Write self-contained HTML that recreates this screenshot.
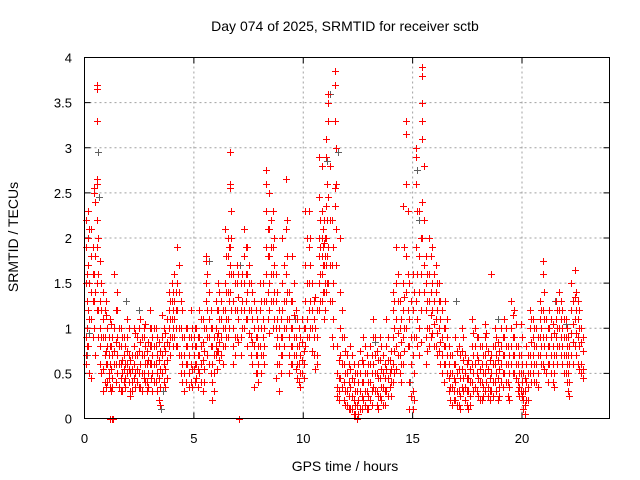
<!DOCTYPE html>
<html><head><meta charset="utf-8"><style>
body{margin:0;background:#fff;}
svg{display:block;font-family:"Liberation Sans",sans-serif;}
</style></head><body>
<svg id="chart" width="640" height="480" viewBox="0 0 640 480">
<rect width="640" height="480" fill="#fff"/>
<text x="345" y="31" font-size="14" text-anchor="middle">Day 074 of 2025, SRMTID for receiver sctb</text>
<text transform="translate(18,237) rotate(-90)" font-size="14" text-anchor="middle">SRMTID / TECUs</text>
<text x="345" y="471" font-size="14" text-anchor="middle">GPS time / hours</text>
<g id="grid"></g><g id="ticks"></g><g id="pts"></g>
<rect x="84.5" y="57.5" width="525" height="361" fill="none" stroke="#000" stroke-width="1"/>
</svg>
<script>
const xTicks=[0,5,10,15,20];
const yTicks=[0,0.5,1,1.5,2,2.5,3,3.5,4];
const yTickLabels=["0","0.5","1","1.5","2","2.5","3","3.5","4"];
const redHours=[0.05,0.15,0.3,0.45,0.55,0.7,0.85,1.0,1.1,1.2,1.35,1.5,1.65,1.8,1.95,2.1,2.25,2.4,2.55,2.7,2.85,3.0,3.1,3.25,3.4,3.55,3.7,3.85,4.0,4.1,4.25,4.4,4.55,4.7,4.85,5.0,5.1,5.25,5.4,5.55,5.7,5.85,6.0,6.1,6.25,6.4,6.55,6.65,6.8,6.95,7.2,7.3,7.45,7.6,7.75,7.9,8.0,8.15,8.3,8.45,8.6,8.75,8.9,9.05,9.2,9.35,9.5,9.65,9.8,9.95,10.1,10.25,10.4,10.55,10.7,10.85,10.95,11.05,11.15,11.3,11.45,11.55,11.7,11.85,12.0,12.15,12.3,12.45,12.6,12.75,12.9,13.05,13.2,13.35,13.5,13.65,13.8,13.95,14.1,14.25,14.4,14.55,14.7,14.85,15.0,15.15,15.3,15.45,15.6,15.75,15.9,16.05,16.2,16.35,16.5,16.65,16.8,16.95,17.1,17.25,17.4,17.55,17.7,17.85,18.0,18.15,18.3,18.45,18.6,18.75,18.9,19.05,19.2,19.35,19.5,19.65,19.8,19.95,20.05,20.2,20.35,20.5,20.65,20.8,20.95,21.1,21.25,21.4,21.55,21.7,21.85,22.0,22.1,22.25,22.4,22.55,22.7,1.15,1.25,1.3,7.05];
const redValues=[[2.2,1.9,1.5,0.9,0.6,0.7],[2.3,2.0,1.7,1.2,0.8],[1.4,1.1,0.45,1.8,2.1],[2.55,2.5,1.3,1.6,1.0],[3.7,3.65,3.3,2.65,2.6,2.2,1.9,1.5,1.2],[1.75,1.3,1.0,0.8,0.6],[1.4,1.1,0.9,0.55,0.3],[1.3,1.15,0.75,0.6,0.35],[0.9,0.7,0.5,0.45],[1.05,0.8,0.55,0.3],[1.6,1.0,0.75,0.6],[1.4,1.2,0.9,0.7,0.5],[1.0,0.8,0.6,0.45,0.3],[0.9,0.7,0.55,0.4],[1.1,0.9,0.75,0.6,0.5],[0.65,0.5,0.3,0.25],[1.0,0.8,0.6,0.45],[0.9,0.7,0.55,0.4],[1.1,0.85,0.6,0.35],[1.0,0.9,0.7,0.5,0.45],[0.75,0.6,0.4,0.3],[1.2,1.0,0.8,0.6],[0.9,0.7,0.5,0.3],[1.0,0.8,0.6,0.4],[0.85,0.65,0.45,0.2],[1.15,0.9,0.7,0.5],[0.95,0.75,0.55,0.35],[1.4,1.2,1.0,0.8],[1.5,1.3,1.1,0.9],[1.6,1.3,1.1,0.9],[1.9,1.5,1.2,0.8],[1.3,1.0,0.7,0.5],[0.9,0.7,0.5,0.3],[1.0,0.8,0.6],[1.2,0.9,0.6,0.4],[0.9,0.7,0.55],[1.0,0.8,0.6,0.45],[1.2,0.9,0.7,0.5],[1.1,0.85,0.65,0.3],[1.8,1.75,1.5,1.3,1.0],[1.4,1.1,0.9,0.6],[1.0,0.8,0.6,0.4,0.2],[1.3,1.0,0.8,0.7],[1.5,1.2,0.95,0.75],[1.3,1.1,0.9,0.7],[2.1,1.5,1.2,1.0,0.8],[2.0,1.8,1.4,1.1,0.9],[2.95,2.6,2.55,1.9,1.7,1.4],[1.6,1.3,1.0,0.8,0.6],[1.7,1.5,1.2,0.9],[1.6,1.3,1.0],[2.1,1.8,1.5,1.2,1.0],[1.9,1.6,1.4,1.1,0.8],[1.5,1.2,0.9,0.7],[1.3,1.0,0.8,0.35],[1.1,0.9,0.7,0.5],[1.5,1.2,0.8],[1.5,1.1,0.9,0.7],[2.75,2.6,2.3,1.9,1.6,1.3],[2.5,2.1,1.8,1.5,1.2,0.95],[2.3,1.9,1.6,1.3,1.0],[1.6,1.3,1.0,0.8,0.45],[1.2,1.0,0.8,0.6,0.3],[2.0,1.5,1.2,0.9,0.7],[2.65,2.1,1.6,1.3,1.0],[1.4,1.1,0.9,0.7,0.5],[1.8,1.3,1.0,0.8,0.6],[1.2,0.9,0.7,0.55],[1.0,0.8,0.6,0.4],[1.1,0.85,0.65,0.5],[2.3,1.7,1.3,1.0,0.8],[2.3,1.9,1.5,1.2,0.9],[1.5,1.2,1.0,0.75],[1.35,1.0,0.55],[2.9,2.45,2.0,1.8,1.5,1.2],[2.8,2.3,2.0,1.8,1.6,1.3],[2.2,1.95,1.7,1.4,1.1],[3.1,2.9,2.35,2.0,1.7,1.4],[3.6,3.5,3.3,2.45,1.9,1.5],[2.2,1.7,1.3,0.9],[3.85,3.7,3.3,2.55,2.35],[0.8,0.5,0.35,0.25],[2.0,1.4,1.0,0.7,0.45],[0.9,0.6,0.4,0.2],[0.7,0.5,0.3,0.15],[0.8,0.55,0.35,0.1],[0.6,0.4,0.2,0.05],[0.5,0.3,0.15,0.0],[0.75,0.5,0.3,0.1],[0.9,0.6,0.4,0.2],[0.7,0.5,0.3,0.1],[0.8,0.6,0.4,0.2],[1.1,0.9,0.6,0.35],[0.75,0.5,0.3,0.15],[0.9,0.65,0.45,0.25],[0.7,0.5,0.35,0.15],[1.1,0.8,0.55,0.3],[0.65,0.5,0.35],[1.4,1.2,0.9,0.6,0.4],[1.9,1.5,1.1,0.8,0.55],[1.3,1.0,0.7,0.5],[2.35,1.5,1.2,0.9,0.6],[3.3,3.15,2.6,1.8,1.4,1.0],[1.5,1.1,0.8,0.4,0.1],[1.6,1.2,0.7,0.3,0.1],[3.0,2.9,2.6,1.9,1.3,0.9],[2.3,1.8,1.4,1.0,0.7],[3.9,3.8,3.5,3.3,3.1,2.4,2.0],[1.8,1.5,1.2,0.9,0.6],[2.0,1.6,1.3,1.0,0.8],[1.9,1.5,1.2,0.95],[1.7,1.4,1.1,0.8],[1.5,1.3,1.0,0.75],[1.2,0.9,0.7,0.5],[1.3,1.0,0.8,0.6],[0.8,0.6,0.45,0.3],[0.7,0.5,0.35,0.15],[0.9,0.6,0.4,0.2],[0.8,0.55,0.3,0.15],[1.0,0.75,0.55,0.35],[0.7,0.5,0.35,0.2],[0.65,0.45,0.3,0.1],[1.1,0.8,0.6,0.4],[1.0,0.8,0.6,0.35],[0.9,0.65,0.45,0.25],[0.8,0.6,0.4,0.2],[1.05,0.9,0.7,0.5,0.3],[0.75,0.55,0.35,0.25],[1.6,0.7,0.5,0.3],[1.0,0.8,0.6,0.4],[0.85,0.65,0.45,0.2],[1.0,0.8,0.6,0.4],[1.1,0.9,0.7,0.5],[0.8,0.6,0.4,0.25],[1.3,1.0,0.8,0.6],[1.2,0.9,0.7,0.5],[0.8,0.6,0.4,0.3],[1.05,0.7,0.5,0.3],[0.5,0.3,0.2,0.1],[0.8,0.6,0.4,0.2],[1.2,1.0,0.7,0.5],[1.1,0.9,0.7,0.5],[1.0,0.8,0.6,0.4],[1.3,1.1,0.9,0.7],[1.75,1.6,1.2,0.9,0.6],[1.1,0.9,0.7,0.5],[1.2,1.0,0.8,0.6],[1.05,0.8,0.6,0.4],[1.3,1.1,0.9,0.7],[1.4,1.2,1.0,0.8],[1.2,1.0,0.8,0.6],[1.1,0.9,0.7,0.5],[0.9,0.7,0.5,0.3],[1.5,1.2,0.95,0.7],[1.65,1.35,1.1,0.8],[1.3,1.1,0.9,0.6],[1.0,0.85,0.6,0.5],[0],[0],[0],[0]];
const redBins2=[
[0.12,[1.6,1.3,1.0,0.8]],[0.22,[2.1,1.5,1.1,0.5]],[0.37,[1.9,1.6,1.3,0.9]],[0.5,[2.4,1.8,1.4,0.7]],[0.62,[2.0,1.6,1.2,0.9]],[0.77,[1.5,1.2,0.9,0.5]],[0.92,[1.2,0.9,0.7,0.4]],[1.05,[1.0,0.8,0.6,0.4]],[1.17,[1.1,0.8,0.6,0.35]],
[1.27,[0.9,0.7,0.45,0.35]],[1.42,[1.2,0.85,0.6,0.4]],[1.57,[1.0,0.8,0.6,0.35]],[1.72,[0.9,0.65,0.5,0.3]],[1.87,[0.8,0.6,0.45,0.35]],[2.02,[1.0,0.7,0.55,0.4]],[2.17,[0.7,0.55,0.4,0.3]],[2.32,[0.95,0.7,0.5,0.35]],[2.47,[1.0,0.75,0.5,0.35]],[2.62,[0.9,0.7,0.5,0.3]],[2.77,[1.05,0.8,0.6,0.4]],[2.92,[0.85,0.65,0.5,0.35]],[3.05,[1.0,0.8,0.6,0.45]],
[3.17,[1.0,0.8,0.6,0.4]],[3.32,[0.9,0.7,0.5,0.3]],[3.47,[0.75,0.55,0.35,0.15]],[3.62,[1.0,0.8,0.6,0.4]],[3.77,[1.1,0.85,0.65,0.45]],[3.92,[1.3,1.1,0.9,0.7]],[4.05,[1.4,1.2,1.0,0.8]],
[4.17,[1.4,1.2,1.0,0.8]],[4.32,[1.7,1.4,1.0,0.7]],[4.47,[1.2,0.9,0.6,0.4]],[4.62,[1.0,0.8,0.6,0.4]],[4.77,[0.9,0.7,0.5,0.35]],[4.92,[1.0,0.8,0.55,0.35]],[5.05,[1.0,0.8,0.6,0.4]],
[5.17,[0.9,0.7,0.55,0.35]],[5.32,[1.1,0.8,0.6,0.4]],[5.47,[1.0,0.75,0.55,0.4]],[5.62,[1.6,1.2,0.9,0.7]],[5.77,[1.2,1.0,0.8,0.5]],[5.92,[0.9,0.7,0.5,0.3]],[6.05,[1.2,0.9,0.75,0.55]],
[6.17,[1.4,1.1,0.85,0.65]],[6.32,[1.2,1.0,0.8,0.6]],[6.47,[1.8,1.4,1.1,0.9]],[6.6,[1.9,1.6,1.3,1.0]],[6.72,[2.3,2.0,1.6,1.2]],[6.87,[1.5,1.2,0.9,0.7]],[7.02,[1.6,1.35,1.1,0.85]],[7.15,[1.5,1.2,0.9,0.7]],
[7.37,[1.9,1.6,1.3,1.1]],[7.52,[1.7,1.5,1.2,0.95]],[7.67,[1.4,1.1,0.85,0.6]],[7.82,[1.2,0.9,0.7,0.5]],[7.95,[1.0,0.8,0.6,0.4]],[8.07,[1.3,1.0,0.7,0.5]],
[8.22,[1.3,1.0,0.8,0.6]],[8.37,[2.1,1.8,1.4,1.1]],[8.52,[2.2,1.9,1.6,1.3]],[8.67,[2.0,1.7,1.4,1.1]],[8.82,[1.4,1.1,0.9,0.6]],[8.97,[1.1,0.9,0.7,0.5]],
[9.12,[1.7,1.3,1.0,0.8]],[9.27,[2.2,1.8,1.4,1.1]],[9.42,[1.3,1.0,0.8,0.6]],[9.57,[1.5,1.15,0.9,0.7]],[9.72,[1.1,0.8,0.6,0.45]],[9.87,[0.9,0.7,0.5,0.35]],[10.02,[1.0,0.75,0.6,0.45]],
[10.17,[2.0,1.5,1.1,0.9]],[10.32,[2.0,1.7,1.3,1.0]],[10.47,[1.3,1.1,0.9,0.7]],[10.62,[1.2,0.9,0.7,0.6]],[10.77,[2.2,1.9,1.6,1.3]],[10.9,[2.1,1.9,1.7,1.4]],[11.0,[2.0,1.8,1.5,1.2]],[11.1,[2.6,2.2,1.8,1.5]],
[11.22,[2.8,2.2,1.7,1.3]],[11.37,[1.9,1.5,1.1,0.8]],[11.5,[3.0,2.6,2.1,1.7]],[11.62,[0.65,0.45,0.3,0.2]],[11.77,[1.2,0.9,0.6,0.35]],[11.92,[0.75,0.5,0.3,0.15]],[12.07,[0.6,0.4,0.25,0.1]],
[12.22,[0.7,0.45,0.25,0.1]],[12.37,[0.5,0.3,0.15,0.05]],[12.52,[0.6,0.4,0.2,0.05]],[12.67,[0.65,0.4,0.25,0.1]],[12.82,[0.8,0.5,0.3,0.15]],[12.97,[0.6,0.4,0.25,0.1]],
[13.12,[0.7,0.5,0.3,0.15]],[13.27,[0.9,0.7,0.5,0.3]],[13.42,[0.65,0.45,0.25,0.1]],[13.57,[0.8,0.55,0.35,0.2]],[13.72,[0.6,0.45,0.3,0.15]],[13.87,[0.9,0.65,0.45,0.25]],[14.02,[0.75,0.55,0.4,0.25]],
[14.17,[1.3,1.0,0.75,0.5]],[14.32,[1.6,1.3,0.95,0.7]],[14.47,[1.1,0.85,0.6,0.4]],[14.62,[1.9,1.35,1.0,0.75]],[14.77,[2.3,1.6,1.2,0.8]],[14.92,[1.3,0.9,0.6,0.25]],
[15.07,[1.4,0.9,0.5,0.2]],[15.22,[2.3,1.6,1.1,0.8]],[15.37,[2.0,1.6,1.2,0.85]],[15.52,[2.8,2.2,1.7,1.4]],[15.67,[1.6,1.3,1.0,0.75]],[15.82,[1.8,1.4,1.15,0.9]],[15.97,[1.6,1.3,1.05,0.8]],
[16.12,[1.5,1.2,0.95,0.7]],[16.27,[1.3,1.1,0.85,0.6]],[16.42,[1.0,0.8,0.6,0.4]],[16.57,[1.1,0.9,0.7,0.5]],[16.72,[0.7,0.5,0.35,0.2]],[16.87,[0.6,0.45,0.3,0.2]],[17.02,[0.75,0.5,0.3,0.15]],
[17.17,[0.7,0.45,0.25,0.1]],[17.32,[0.9,0.65,0.45,0.3]],[17.47,[0.6,0.45,0.3,0.15]],[17.62,[0.55,0.4,0.25,0.15]],[17.77,[0.95,0.7,0.5,0.3]],[17.92,[0.9,0.7,0.5,0.3]],[18.07,[0.8,0.55,0.4,0.2]],
[18.22,[0.7,0.5,0.35,0.25]],[18.37,[0.95,0.8,0.6,0.4]],[18.52,[0.65,0.45,0.3,0.2]],[18.67,[0.8,0.6,0.4,0.25]],[18.82,[0.9,0.7,0.5,0.3]],[18.97,[0.75,0.55,0.35,0.25]],
[19.12,[0.9,0.7,0.5,0.35]],[19.27,[1.0,0.8,0.6,0.4]],[19.42,[0.7,0.5,0.35,0.2]],[19.57,[1.15,0.9,0.7,0.5]],[19.72,[1.05,0.8,0.6,0.45]],[19.87,[0.7,0.5,0.35,0.25]],[20.0,[0.9,0.6,0.4,0.25]],
[20.12,[0.45,0.3,0.15,0.05]],[20.27,[0.7,0.5,0.35,0.2]],[20.42,[1.1,0.85,0.6,0.4]],[20.57,[1.0,0.8,0.6,0.4]],[20.72,[0.9,0.7,0.5,0.35]],[20.87,[1.2,1.0,0.8,0.6]],[21.02,[1.4,1.1,0.8,0.55]],
[21.17,[1.0,0.8,0.6,0.4]],[21.32,[1.1,0.9,0.7,0.5]],[21.47,[0.95,0.7,0.5,0.35]],[21.62,[1.2,1.0,0.8,0.6]],[21.77,[1.3,1.1,0.9,0.7]],[21.92,[1.1,0.9,0.7,0.5]],[22.05,[1.0,0.8,0.6,0.4]],
[22.17,[0.8,0.6,0.4,0.25]],[22.32,[1.3,1.05,0.85,0.6]],[22.47,[1.4,1.2,0.95,0.7]],[22.62,[1.2,1.0,0.8,0.55]],[22.77,[0.9,0.75,0.55,0.45]]
];
const grayHours=[0.1,0.6,0.65,0.2,3.5,3.6,11.2,11.1,11.6,15.2,15.3,4.2,5.7,12.5,17.0,21.5,22.0,1.9,2.5,7.1,9.6,13.3,18.9,14.9];
const grayValues=[0.7,2.95,2.45,0.95,0.1,0.3,3.6,2.85,2.95,2.75,2.2,1.4,1.75,0.2,1.3,1.3,1.05,1.3,1.2,1.7,1.1,0.85,1.1,0.4];

const NS="http://www.w3.org/2000/svg";
const X0=84.5,X1=609.5,Y0=418.5,Y1=57.5;
function xs(h){return X0+(h/24)*(X1-X0);}
function ys(v){return Y0-(v/4)*(Y0-Y1);}
function mk(tag,attrs,parent){const e=document.createElementNS(NS,tag);for(const k in attrs)e.setAttribute(k,attrs[k]);parent.appendChild(e);return e;}
const grid=document.getElementById('grid'),ticks=document.getElementById('ticks'),pts=document.getElementById('pts');
xTicks.forEach(t=>{
  const x=xs(t);
  if(t>0){const g=mk('line',{x1:x,x2:x,y1:Y0,y2:Y1,stroke:'#a0a0a0','stroke-dasharray':'2,3'},grid);
  
  }
  mk('line',{x1:x,x2:x,y1:Y0,y2:Y0-6,stroke:'#000'},ticks);
  mk('line',{x1:x,x2:x,y1:Y1,y2:Y1+6,stroke:'#000'},ticks);
  const l=mk('text',{x:x,y:443,'font-size':13,'text-anchor':'middle'},ticks);
  l.textContent=String(t);
  
  
});
yTicks.forEach((t,i)=>{
  const y=ys(t);
  if(t>0&&t<4){const g=mk('line',{x1:X0,x2:X1,y1:y,y2:y,stroke:'#a0a0a0','stroke-dasharray':'2,3'},grid);
  
  }
  mk('line',{x1:X0,x2:X0+6,y1:y,y2:y,stroke:'#000'},ticks);
  mk('line',{x1:X1,x2:X1-6,y1:y,y2:y,stroke:'#000'},ticks);
  const l=mk('text',{x:72,y:y+5,'font-size':13,'text-anchor':'end'},ticks);
  l.textContent=yTickLabels[i];
  
  
});
function cross(h,v,color,name){
  const x=Math.round(xs(h))+0.5,y=Math.round(ys(v))+0.5;
  const p=mk('path',{d:`M${x-3.5},${y}H${x+3.5}M${x},${y-3.5}V${y+3.5}`,stroke:color,'stroke-width':1,fill:'none'},pts);
  
  
}
grayHours.forEach((h,i)=>cross(h,grayValues[i],'#606060','srmtid-gray-point'));
redHours.forEach((h,i)=>{redValues[i].forEach(v=>cross(h,v,'#ff0000','srmtid-point'));});
redBins2.forEach(b=>{b[1].forEach(v=>cross(b[0],v,'#ff0000','srmtid-point'));});
</script>
</body></html>
